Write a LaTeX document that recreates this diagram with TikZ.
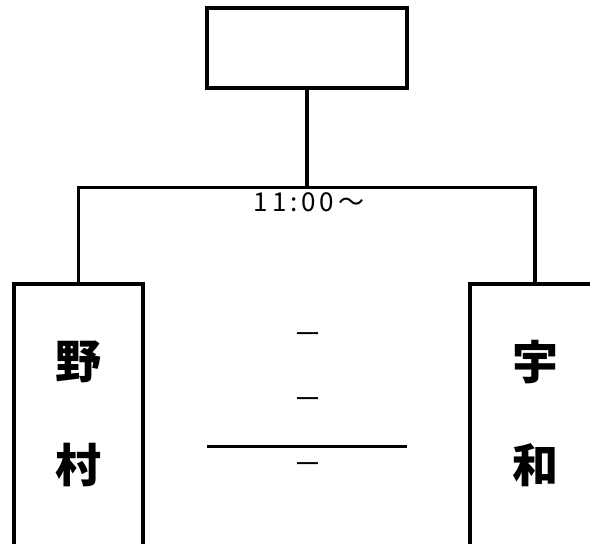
\documentclass[tikz,border=0pt]{standalone}
\usepackage{fontspec}
\setmainfont{Noto Sans CJK JP}
\newfontfamily\timefont[LetterSpace=15]{Noto Sans CJK JP}

\begin{document}
\begin{tikzpicture}[x=1pt,y=1pt,
  box/.style={draw, line width=3.2pt, inner sep=0pt},
  line/.style={line width=3.2pt},
  kanji/.style={font=\fontsize{46}{46}\selectfont\bfseries},
  score/.style={font=\fontsize{29}{29}\selectfont}]

\useasboundingbox (0,0) rectangle (590,544);
\clip (0,0) rectangle (590,544);

% boxes
\node[box, minimum width=200pt, minimum height=80pt] (final) at (307,496) {};
\node[box, minimum width=129pt, minimum height=320pt] (nomura) at (78.5,100) {};
\node[box, minimum width=130pt, minimum height=320pt] (uwa) at (535,100) {};

% bracket
\draw[line] (final.south) -- ++(0,-98) coordinate (split);
\draw[line] (nomura.north) |- (split) -| (uwa.north);

% time
\node[font=\timefont\fontsize{26}{26}\selectfont] (time) at (309,342) {11:00～};

% team names
\node[kanji] (no) at (79,182) {野};
\node[kanji] (mura) at (79,79) {村};
\node[kanji] (u) at (535,182) {宇};
\node[kanji] (wa) at (535,79) {和};

% score
\node[score] (scoreA) at (308,205.5) {－};
\node[score] (scoreB) at (308,140.5) {－};
\node[score] (scoreC) at (308,75.5) {－};
\draw[line width=3pt] (207,97) -- (407,97);

\end{tikzpicture}
\end{document}
